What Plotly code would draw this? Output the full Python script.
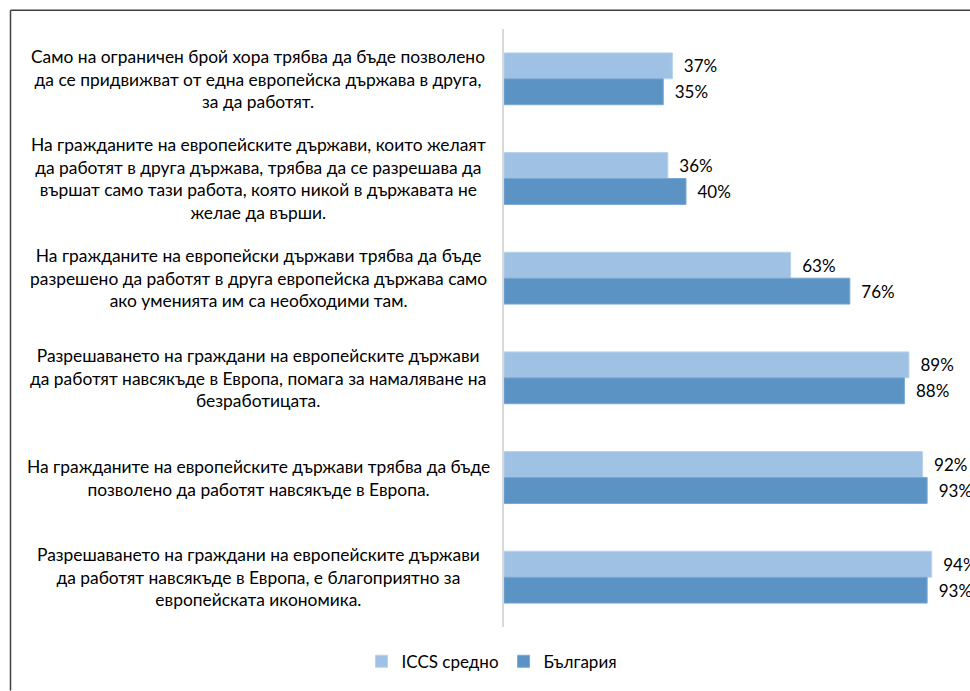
import plotly.graph_objects as go

categories = [
    "Само на ограничен брой хора трябва да бъде позволено<br>да се придвижват от една европейска държава в друга,<br>за да работят.",
    "На гражданите на европейските държави, които желаят<br>да работят в друга държава, трябва да се разрешава да<br>вършат само тази работа, която никой в държавата не<br>желае да върши.",
    "На гражданите на европейски държави трябва да бъде<br>разрешено да работят в друга европейска държава само<br>ако уменията им са необходими там.",
    "Разрешаването на граждани на европейските държави<br>да работят навсякъде в Европа, помага за намаляване на<br>безработицата.",
    "На гражданите на европейските държави трябва да бъде<br>позволено да работят навсякъде в Европа.",
    "Разрешаването на граждани на европейските държави<br>да работят навсякъде в Европа, е благоприятно за<br>европейската икономика.",
]
iccs = [37, 36, 63, 89, 92, 94]
bulgaria = [35, 40, 76, 88, 93, 93]
series_names = ["ICCS средно", "България"]

ids = list(range(len(categories)))
FONT = "Lato"
PAD = "\u2002"

fig = go.Figure()
fig.add_trace(go.Bar(
    y=ids, x=iccs, orientation="h", name=series_names[0],
    marker=dict(color="#9FC1E3", line=dict(color="#B8D2EC", width=1)),
    text=[f"{PAD}{v}%" for v in iccs], textposition="outside",
    constraintext="none", cliponaxis=False,
    textfont=dict(family=FONT, size=17, color="#000000"),
))
fig.add_trace(go.Bar(
    y=ids, x=bulgaria, orientation="h", name=series_names[1],
    marker=dict(color="#5B93C5", line=dict(color="#7AA8D2", width=1)),
    text=[f"{PAD}{v}%" for v in bulgaria], textposition="outside",
    constraintext="none", cliponaxis=False,
    textfont=dict(family=FONT, size=17, color="#000000"),
))

L, R, T, B = 504, 11, 29, 59
W, H = 970, 691
pw, ph = W - L - R, H - T - B

annotations = []
for i, c in enumerate(categories):
    annotations.append(dict(
        x=(258 - L) / pw, xref="paper", y=i, yref="y",
        text=c, showarrow=False, xanchor="center", yanchor="middle",
        align="center", font=dict(family=FONT, size=17.4, color="#000000"),
    ))

shapes = [
    dict(type="line", xref="paper", yref="paper",
         x0=(10.5 - L) / pw, x1=(10.5 - L) / pw,
         y0=1 + (T - 10) / ph, y1=-(B + 5) / ph,
         line=dict(color="#404040", width=1.5)),
    dict(type="line", xref="paper", yref="paper",
         x0=(10.5 - L) / pw, x1=1 + (R + 5) / pw,
         y0=1 + (T - 10) / ph, y1=1 + (T - 10) / ph,
         line=dict(color="#404040", width=1.5)),
]

fig.update_layout(
    width=W, height=H,
    margin=dict(l=L, r=R, t=T, b=B, pad=0),
    paper_bgcolor="white", plot_bgcolor="white",
    barmode="group", bargap=0.48, bargroupgap=0,
    font=dict(family=FONT, size=17, color="#000000"),
    xaxis=dict(range=[0, 100], showgrid=False, zeroline=False,
               showticklabels=False, showline=False, fixedrange=True),
    yaxis=dict(range=[5.5, -0.5], showgrid=False, zeroline=False,
               showticklabels=False, showline=True, linecolor="#D9D9D9",
               linewidth=2, ticks="", fixedrange=True),
    legend=dict(orientation="h", x=(492 - L) / pw, xanchor="center",
                y=-(667 - (T + ph)) / ph, yanchor="middle",
                font=dict(family=FONT, size=17), traceorder="normal",
                itemwidth=30),
    annotations=annotations,
    shapes=shapes,
    showlegend=True,
)

fig.write_html(
    "out.html",
    config={"displayModeBar": False},
    post_script="document.body.style.margin='0';document.body.style.overflow='hidden';",
)
